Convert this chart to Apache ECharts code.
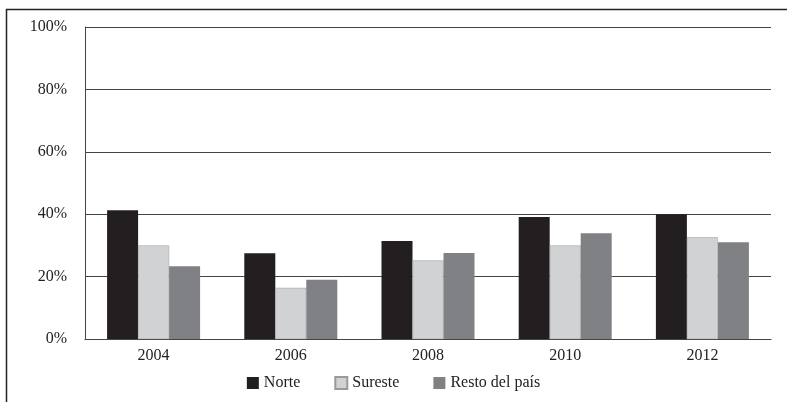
<!DOCTYPE html>
<html>
<head>
<meta charset="utf-8">
<script src="https://cdn.jsdelivr.net/npm/echarts@6/dist/echarts.min.js"></script>
<style>
  html, body { margin: 0; padding: 0; background: #fff; }
  #chart { width: 787px; height: 402px; }
</style>
</head>
<body>
<div id="chart"></div>
<script>
const years = ['2004', '2006', '2008', '2010', '2012'];
const norte = [41.3, 27.5, 31.4, 39.1, 40.0];
const sureste = [30.0, 16.4, 25.2, 30.0, 32.6];
const resto = [23.3, 19.0, 27.6, 33.9, 31.0];

const chart = echarts.init(document.getElementById('chart'));
const font = 'Liberation Serif';

const option = {
  animation: false,
  textStyle: { fontFamily: font },
  // marco exterior
  graphic: [
    { type: 'line', shape: { x1: 6, y1: 9.5, x2: 787, y2: 9.5 }, style: { stroke: '#222', lineWidth: 1.5 } },
    { type: 'line', shape: { x1: 6.5, y1: 9, x2: 6.5, y2: 402 }, style: { stroke: '#222', lineWidth: 1.5 } }
  ],
  grid: { left: 85, right: 16, top: 27, bottom: 63 },
  legend: {
    bottom: 6,
    left: 'center',
    itemWidth: 12,
    itemHeight: 12,
    itemGap: 34,
    icon: 'rect',
    textStyle: { fontFamily: font, fontSize: 16, color: '#222' },
    data: ['Norte', 'Sureste', 'Resto del país']
  },
  xAxis: {
    type: 'category',
    data: years,
    axisLine: { lineStyle: { color: '#444', width: 1 } },
    axisTick: { show: false },
    axisLabel: { color: '#222', fontSize: 16, fontFamily: font, margin: 9 }
  },
  yAxis: {
    type: 'value',
    min: 0,
    max: 100,
    interval: 20,
    axisLine: { show: true, lineStyle: { color: '#444', width: 1 } },
    axisTick: { show: false },
    axisLabel: { color: '#222', fontSize: 16, fontFamily: font, margin: 18, formatter: '{value}%' },
    splitLine: { lineStyle: { color: '#444', width: 1 } }
  },
  series: [
    { name: 'Norte', type: 'bar', data: norte, barWidth: 31, barGap: '0%', itemStyle: { color: '#231f20' } },
    { name: 'Sureste', type: 'bar', data: sureste, barWidth: 31, barGap: '0%', itemStyle: { color: '#d1d2d4', borderColor: '#9a9a9c', borderWidth: 0.5 } },
    { name: 'Resto del país', type: 'bar', data: resto, barWidth: 31, barGap: '0%', itemStyle: { color: '#808184' } }
  ]
};
chart.setOption(option);
</script>
</body>
</html>
